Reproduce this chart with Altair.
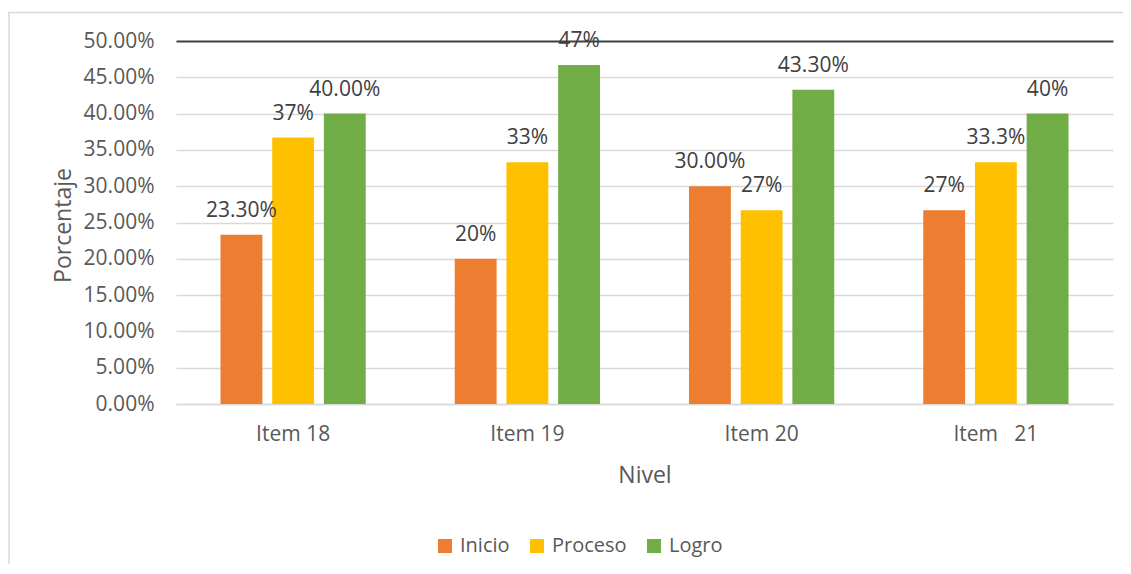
import altair as alt
import pandas as pd

items = ["Item 18", "Item 19", "Item 20", "Item\u00a0\u00a0 21"]
series = ["Inicio", "Proceso", "Logro"]
inicio = [0.233, 0.200, 0.300, 0.267]
proceso = [0.367, 0.333, 0.267, 0.333]
logro = [0.400, 0.467, 0.433, 0.400]
inicio_lbl = ["23.30%", "20%", "30.00%", "27%"]
proceso_lbl = ["37%", "33%", "27%", "33.3%"]
logro_lbl = ["40.00%", "47%", "43.30%", "40%"]
colors = ["#ED7D31", "#FFC000", "#70AD47"]
y_ticks = [0, 0.05, 0.10, 0.15, 0.20, 0.25, 0.30, 0.35, 0.40, 0.45, 0.50]

rows = []
for s, vals, lbls in zip(series, [inicio, proceso, logro], [inicio_lbl, proceso_lbl, logro_lbl]):
    for it, v, l in zip(items, vals, lbls):
        rows.append({"item": it, "serie": s, "valor": v, "etiqueta": l})
df = pd.DataFrame(rows)

FONT = "Open Sans"

base = alt.Chart(df).encode(
    x=alt.X("item:N", sort=items,
            scale=alt.Scale(paddingInner=0.38, paddingOuter=0.19),
            axis=alt.Axis(title="Nivel", labelAngle=0, ticks=False, domainColor="#d9d9d9",
                          domainWidth=1.5, labelFontSize=21, labelColor="#595959",
                          labelPadding=19, labelFont=FONT, titleFont=FONT,
                          titleFontSize=23, titleFontWeight="normal", titleColor="#595959",
                          titleY=71, titleBaseline="middle")),
    xOffset=alt.XOffset("serie:N", sort=series, scale=alt.Scale(paddingInner=0.19)),
    y=alt.Y("valor:Q",
            scale=alt.Scale(domain=[0, 0.5], nice=False),
            axis=alt.Axis(title="Porcentaje", values=y_ticks, format=".2%", domain=False,
                          ticks=False, labelFontSize=21, labelColor="#595959", labelPadding=22,
                          labelFont=FONT, titleFont=FONT, titleFontSize=23,
                          titleFontWeight="normal", titleColor="#595959",
                          titleX=-113, titleY=184, titleAngle=270,
                          titleAlign="center", titleBaseline="middle",
                          gridColor={"condition": {"test": "datum.value >= 0.5", "value": "#404040"}, "value": "#d9d9d9"},
                          gridWidth={"condition": {"test": "datum.value >= 0.5", "value": 2}, "value": 1.5})),
)

bars = base.mark_bar().encode(
    color=alt.Color("serie:N", sort=series,
                    scale=alt.Scale(domain=series, range=colors),
                    legend=alt.Legend(title=None, orient="none", direction="horizontal",
                                      legendX=259, legendY=495, symbolType="square",
                                      symbolSize=196, symbolStrokeWidth=0, labelFontSize=20,
                                      labelFont=FONT, labelColor="#595959",
                                      columnPadding=17, labelOffset=5)),
)

text = base.mark_text(dy=-24, baseline="middle", fontSize=21, font=FONT, color="#404040").encode(
    text="etiqueta:N"
)

frame = alt.Chart(pd.DataFrame({"a": [0]})).mark_rect(
    fill="transparent", stroke="#d9d9d9", strokeWidth=1.5
).encode(x=alt.value(-167), x2=alt.value(970), y=alt.value(-28.5), y2=alt.value(580))

chart = alt.layer(frame, bars, text).properties(
    width=937, height=363,
    autosize=alt.AutoSizeParams(type="none"),
    padding={"left": 168, "top": 33, "right": 10, "bottom": 160},
).configure_view(stroke=None)

chart.save("out.html", embed_options={"renderer": "svg", "actions": False})
